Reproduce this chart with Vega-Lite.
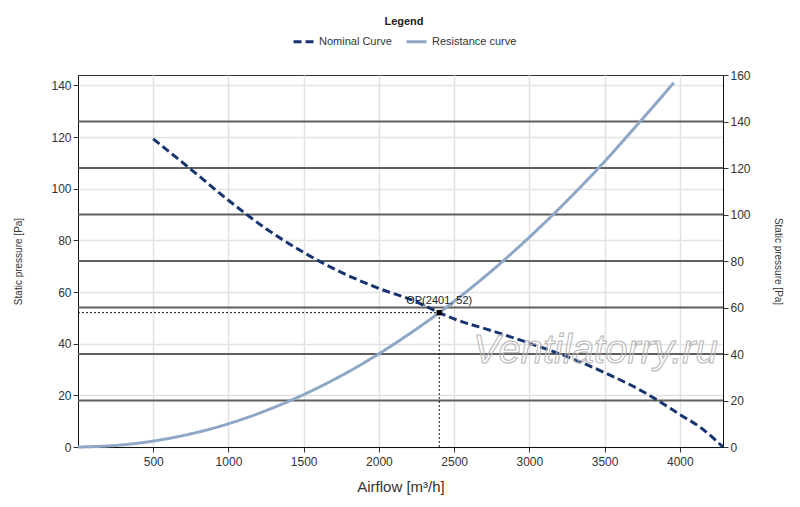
{
  "$schema": "https://vega.github.io/schema/vega-lite/v6.json",
  "autosize": {"type": "none"},
  "width": 645,
  "height": 372,
  "padding": {"left": 78, "top": 75, "right": 77, "bottom": 60},
  "background": "white",
  "config": {
    "font": "Liberation Sans",
    "view": {"stroke": "#333", "strokeWidth": 1},
    "axis": {
      "labelFont": "Liberation Sans",
      "titleFont": "Liberation Sans",
      "labelFontSize": 12,
      "labelColor": "#333",
      "titleColor": "#333",
      "titleFontWeight": "normal",
      "tickColor": "#333",
      "domainColor": "#111",
      "tickSize": 5
    }
  },
  "datasets": {
    "curves": [
      {"series": "Resistance curve", "airflow": 0, "pressure": 0},
      {"series": "Resistance curve", "airflow": 250, "pressure": 0.6},
      {"series": "Resistance curve", "airflow": 500, "pressure": 2.3},
      {"series": "Resistance curve", "airflow": 750, "pressure": 5.1},
      {"series": "Resistance curve", "airflow": 1000, "pressure": 9.0},
      {"series": "Resistance curve", "airflow": 1250, "pressure": 14.1},
      {"series": "Resistance curve", "airflow": 1500, "pressure": 20.3},
      {"series": "Resistance curve", "airflow": 1750, "pressure": 27.6},
      {"series": "Resistance curve", "airflow": 2000, "pressure": 36.1},
      {"series": "Resistance curve", "airflow": 2250, "pressure": 45.7},
      {"series": "Resistance curve", "airflow": 2401, "pressure": 52},
      {"series": "Resistance curve", "airflow": 2500, "pressure": 56.4},
      {"series": "Resistance curve", "airflow": 2750, "pressure": 68.2},
      {"series": "Resistance curve", "airflow": 3000, "pressure": 81.2},
      {"series": "Resistance curve", "airflow": 3250, "pressure": 95.3},
      {"series": "Resistance curve", "airflow": 3500, "pressure": 110.5},
      {"series": "Resistance curve", "airflow": 3750, "pressure": 126.9},
      {"series": "Resistance curve", "airflow": 3960, "pressure": 141},
      {"series": "Nominal Curve", "airflow": 500, "pressure": 119.3},
      {"series": "Nominal Curve", "airflow": 750, "pressure": 107.5},
      {"series": "Nominal Curve", "airflow": 1000, "pressure": 95.5},
      {"series": "Nominal Curve", "airflow": 1250, "pressure": 84.5},
      {"series": "Nominal Curve", "airflow": 1500, "pressure": 75.3},
      {"series": "Nominal Curve", "airflow": 1750, "pressure": 67.6},
      {"series": "Nominal Curve", "airflow": 2000, "pressure": 61.4},
      {"series": "Nominal Curve", "airflow": 2250, "pressure": 56.2},
      {"series": "Nominal Curve", "airflow": 2401, "pressure": 52},
      {"series": "Nominal Curve", "airflow": 2500, "pressure": 49.6},
      {"series": "Nominal Curve", "airflow": 2750, "pressure": 45.0},
      {"series": "Nominal Curve", "airflow": 3000, "pressure": 40.2},
      {"series": "Nominal Curve", "airflow": 3250, "pressure": 35.0},
      {"series": "Nominal Curve", "airflow": 3500, "pressure": 28.8},
      {"series": "Nominal Curve", "airflow": 3750, "pressure": 21.6},
      {"series": "Nominal Curve", "airflow": 4000, "pressure": 12.6},
      {"series": "Nominal Curve", "airflow": 4150, "pressure": 7.0},
      {"series": "Nominal Curve", "airflow": 4287, "pressure": 0}
    ],
    "op": [{"airflow": 2401, "pressure": 52, "label": "OP(2401, 52)"}],
    "rightLines": [{"p": 20}, {"p": 40}, {"p": 60}, {"p": 80}, {"p": 100}, {"p": 120}, {"p": 140}],
    "mark": [{"text": "Ventilatorry.ru", "airflow": 3440, "pressure": 37}]
  },
  "layer": [
    {
      "data": {"name": "rightLines"},
      "mark": {"type": "rule", "color": "#5f5f5f", "strokeWidth": 1.8},
      "encoding": {
        "y": {
          "field": "p",
          "type": "quantitative",
          "scale": {"domain": [0, 160], "nice": false},
          "axis": {
            "orient": "right",
            "values": [0, 20, 40, 60, 80, 100, 120, 140, 160],
            "grid": false,
            "title": "Static pressure [Pa]",
            "titleFontSize": 10,
            "titleAngle": 90,
            "titlePadding": 22
          }
        }
      }
    },
    {
      "encoding": {
        "x": {
          "field": "airflow",
          "type": "quantitative",
          "scale": {"domain": [0, 4287], "nice": false},
          "axis": {
            "values": [500, 1000, 1500, 2000, 2500, 3000, 3500, 4000],
            "format": "d",
            "grid": true,
            "gridColor": "#e2e2e2",
            "gridWidth": 1.5,
            "title": "Airflow [m³/h]",
            "titleFontSize": 15,
            "titlePadding": 12,
            "labelPadding": 4
          }
        },
        "y": {
          "field": "pressure",
          "type": "quantitative",
          "scale": {"domain": [0, 144], "nice": false},
          "axis": {
            "orient": "left",
            "values": [0, 20, 40, 60, 80, 100, 120, 140],
            "grid": true,
            "gridColor": "#e2e2e2",
            "gridWidth": 1.5,
            "title": "Static pressure [Pa]",
            "titleFontSize": 10,
            "titlePadding": 27
          }
        }
      },
      "layer": [
        {
          "data": {"name": "curves"},
          "mark": {"type": "line", "strokeWidth": 3, "interpolate": "monotone"},
          "encoding": {
            "color": {
              "field": "series",
              "type": "nominal",
              "scale": {"domain": ["Nominal Curve", "Resistance curve"], "range": ["#173470", "#8fa7c6"]},
              "legend": {
                "title": "Legend",
                "orient": "none",
                "legendX": 214,
                "legendY": -59,
                "direction": "horizontal",
                "titleAnchor": "middle",
                "titleFontSize": 11,
                "titleFontWeight": "bold",
                "titleColor": "#222",
                "titlePadding": 3,
                "labelFontSize": 11,
                "labelColor": "#333",
                "symbolType": "stroke",
                "symbolSize": 400,
                "symbolStrokeWidth": 3,
                "columnPadding": 8
              }
            },
            "strokeDash": {
              "field": "series",
              "type": "nominal",
              "scale": {"domain": ["Nominal Curve", "Resistance curve"], "range": [[8, 4], [1, 0]]}
            }
          }
        },
        {
          "data": {"name": "op"},
          "mark": {"type": "rule", "color": "#111", "strokeWidth": 1, "strokeDash": [2, 2]},
          "encoding": {"x": {"datum": 0}, "x2": {"field": "airflow"}}
        },
        {
          "data": {"name": "op"},
          "mark": {"type": "rule", "color": "#111", "strokeWidth": 1, "strokeDash": [2, 2]},
          "encoding": {"y": {"datum": 0}, "y2": {"field": "pressure"}}
        },
        {
          "data": {"name": "op"},
          "mark": {"type": "square", "color": "#000", "opacity": 1, "filled": true, "size": 28}
        },
        {
          "data": {"name": "op"},
          "mark": {"type": "text", "fontSize": 11, "color": "#222", "dy": -12},
          "encoding": {"text": {"field": "label"}}
        },
        {
          "data": {"name": "mark"},
          "mark": {"type": "text", "fontSize": 40, "fontStyle": "italic", "fill": "white", "fillOpacity": 0.15, "stroke": "#b5b5b5", "strokeWidth": 1},
          "encoding": {"text": {"field": "text"}}
        }
      ]
    }
  ],
  "resolve": {"scale": {"y": "independent"}}
}
